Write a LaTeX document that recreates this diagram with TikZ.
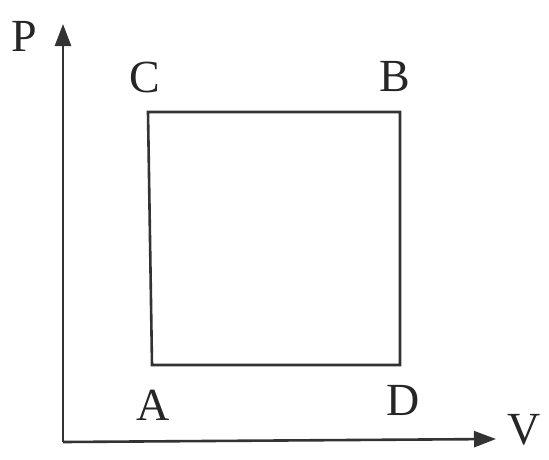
\documentclass[tikz,border=0pt]{standalone}
\usepackage{fontspec}
\setmainfont{Liberation Serif}
\usetikzlibrary{arrows.meta}
\begin{document}
\begin{tikzpicture}[x=1pt,y=-1pt,
  axis/.style={line width=2.6pt,draw=black!80,-{Triangle[length=22pt,width=16pt]}},
  cyc/.style={line width=2.6pt,draw=black!80},
  lbl/.style={font=\fontsize{46}{50}\selectfont,text=black!85,inner sep=0pt}]
\useasboundingbox (0,0) rectangle (549,459);
\coordinate (O) at (63,442);
\coordinate (Ptip) at (63,24);
\coordinate (Vtip) at (496,439);
\draw[axis] (O) -- (Ptip);
\draw[axis] (O) -- (Vtip);
\node[lbl] (P) at (24,36) {P};
\node[lbl] (V) at (524,430) {V};
\coordinate (a) at (152,365);
\coordinate (b) at (400,112);
\coordinate (c) at (148,112);
\coordinate (d) at (400,365);
\draw[cyc] (a) -- (c) -- (b) -- (d) -- cycle;
\node[lbl] (C) at (145,77) {C};
\node[lbl] (B) at (395,77) {B};
\node[lbl] (A) at (153,405) {A};
\node[lbl] (D) at (403,400) {D};
\end{tikzpicture}
\end{document}
